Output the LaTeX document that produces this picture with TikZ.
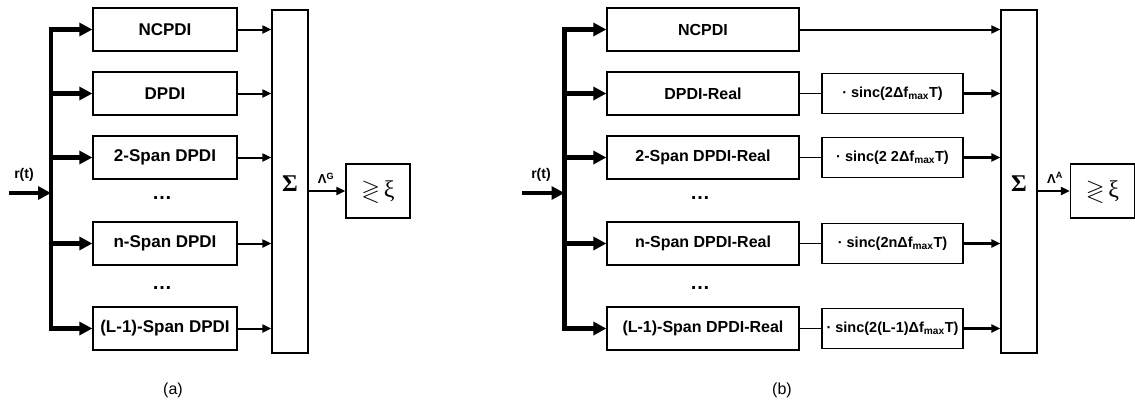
\documentclass[tikz,border=0pt]{standalone}
\usepackage{amssymb}
\usepackage{amsmath}
\usepackage{fontspec}
\setmainfont{Liberation Sans}
\newfontfamily\serifgr{Liberation Serif}
\usepackage{tikz}
\usetikzlibrary{arrows.meta}

\tikzset{
  blk/.style={draw, line width=1.3pt, minimum width=#1, minimum height=43pt, inner sep=0pt},
  sincbox/.style={draw, line width=1.5pt, minimum width=141pt, minimum height=40pt, inner sep=0pt,
    font=\fontsize{14.5}{16}\selectfont\bfseries},
  sumbox/.style={draw, line width=1.3pt, minimum width=36pt, minimum height=343pt, inner sep=0pt},
  decbox/.style={draw, line width=1.3pt, minimum width=64pt, minimum height=54pt, inner sep=0pt,
    font=\fontsize{24}{26}\selectfont},
  busline/.style={line width=4.5pt, line cap=rect},
  branch/.style={line width=4.5pt, -{Triangle[length=13pt,width=13pt]}},
  outarrow/.style={line width=2pt, -{Triangle[length=9pt,width=8pt]}},
  dots/.style={anchor=base, font=\fontsize{20}{22}\selectfont\bfseries},
  lbl/.style={font=\fontsize{14}{16}\selectfont\bfseries},
}
\newcommand{\decsym}{$\gtrless$\,{\serifgr ξ}}
\newcommand{\sumsym}{\fontsize{24}{26}\selectfont\serifgr\bfseries Σ}

\begin{document}
\begin{tikzpicture}[x=1pt,y=-1pt]
\useasboundingbox (0,0) rectangle (1135,405);

% ---- (a) generalized detector ----
\begin{scope}[every node/.append style={font=\fontsize{17}{19}\selectfont\bfseries}]
\node[blk=144pt] (ncpdiA) at (165,29.5) {NCPDI};
\node[blk=144pt] (dpdiA) at (165,93.5) {DPDI};
\node[blk=144pt] (span2A) at (165,157.5) {2-Span DPDI};
\node[blk=144pt] (spannA) at (165,243.5) {n-Span DPDI};
\node[blk=144pt] (spanLA) at (165,328.5) {(L-1)-Span DPDI};
\end{scope}
\node[dots] (dotsA1) at (162,199) {…};
\node[dots] (dotsA2) at (162,289) {…};
\node[sumbox] (sumA) at (290,181.5) {};
\node (sigA) at (290,184) {\sumsym};
\node[decbox] (decA) at (378,191) {\decsym};

\coordinate (inA) at (9,193);
\coordinate (busA) at (51,193);
\node[lbl] (rA) at (24,175) {r(t)};
\draw[busline] (busA |- ncpdiA.west) -- (busA |- spanLA.west);
\draw[branch] (inA) -- (busA);
\foreach \b in {ncpdiA,dpdiA,span2A,spannA,spanLA} {
  \draw[branch] (busA |- \b.west) -- (\b.west);
  \draw[outarrow] (\b.east) -- (\b.east -| sumA.west);
}
\draw[outarrow] (sumA.east |- decA.west) -- (decA.west);
\node[lbl, font=\fontsize{13}{15}\selectfont\bfseries] (lamA) at (326,178) {Λ\textsuperscript{G}};
\node[font=\fontsize{16}{18}\selectfont] (capA) at (173,390) {(a)};

% ---- (b) approximate detector ----
\begin{scope}[every node/.append style={font=\fontsize{16}{18}\selectfont\bfseries}]
\node[blk=192pt] (ncpdiB) at (703,29.5) {NCPDI};
\node[blk=192pt] (dpdiB) at (703,93.5) {DPDI-Real};
\node[blk=192pt] (span2B) at (703,157.5) {2-Span DPDI-Real};
\node[blk=192pt] (spannB) at (703,243.5) {n-Span DPDI-Real};
\node[blk=192pt] (spanLB) at (703,328.5) {(L-1)-Span DPDI-Real};
\end{scope}
\node[sincbox] (sincB1) at (892.5,93.5) {· sinc(2Δf\textsubscript{max}T)};
\node[sincbox] (sincB2) at (892.5,157.5) {· sinc(2 2Δf\textsubscript{max}T)};
\node[sincbox] (sincBn) at (892.5,243.5) {· sinc(2nΔf\textsubscript{max}T)};
\node[sincbox] (sincBL) at (892.5,328.5) {· sinc(2(L-1)Δf\textsubscript{max}T)};
\node[dots] (dotsB1) at (700,199) {…};
\node[dots] (dotsB2) at (700,289) {…};
\node[sumbox] (sumB) at (1019,181.5) {};
\node (sigB) at (1019,184) {\sumsym};
\node[decbox] (decB) at (1102.5,191) {\decsym};

\coordinate (inB) at (522,193);
\coordinate (busB) at (564.5,193);
\node[lbl] (rB) at (541,175) {r(t)};
\draw[busline] (busB |- ncpdiB.west) -- (busB |- spanLB.west);
\draw[branch] (inB) -- (busB);
\foreach \b in {ncpdiB,dpdiB,span2B,spannB,spanLB}
  \draw[branch] (busB |- \b.west) -- (\b.west);
\draw[outarrow] (ncpdiB.east) -- (ncpdiB.east -| sumB.west);
\foreach \b/\s in {dpdiB/sincB1,span2B/sincB2,spannB/sincBn,spanLB/sincBL} {
  \draw[line width=1.3pt] (\b.east) -- (\s.west);
  \draw[outarrow, line width=2.5pt] (\s.east) -- (\s.east -| sumB.west);
}
\draw[outarrow] (sumB.east |- decB.west) -- (decB.west);
\node[lbl, font=\fontsize{13}{15}\selectfont\bfseries] (lamB) at (1055,178) {Λ\textsuperscript{A}};
\node[font=\fontsize{16}{18}\selectfont] (capB) at (782,390) {(b)};
\end{tikzpicture}
\end{document}
